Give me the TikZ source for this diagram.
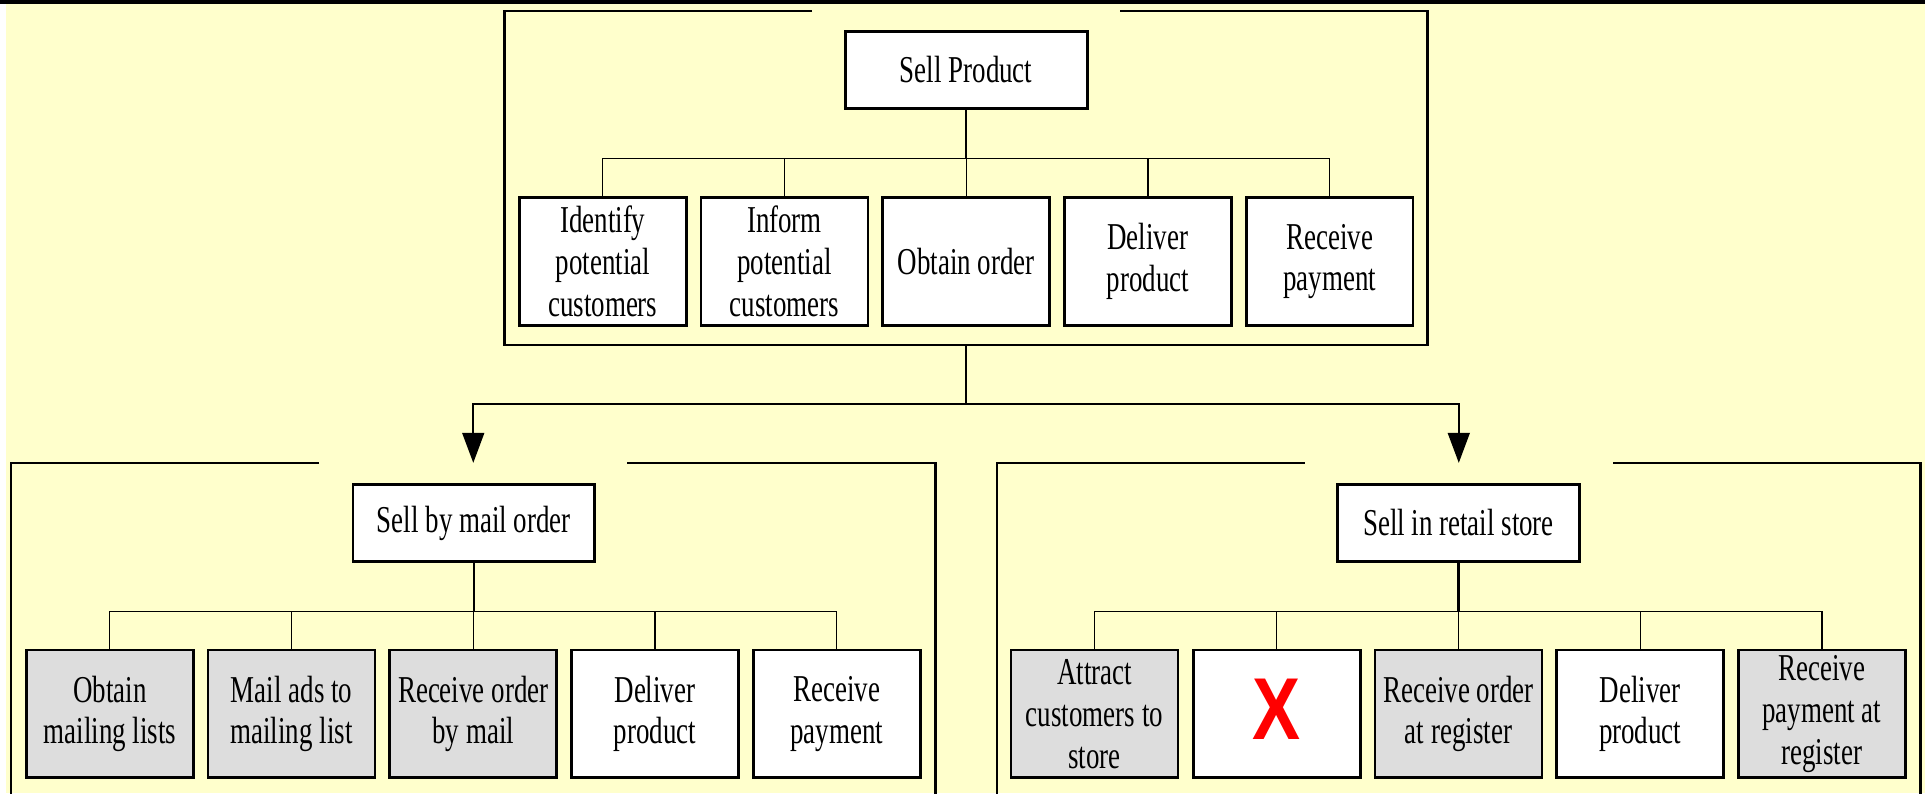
\documentclass[tikz,border=0pt]{standalone}
\usepackage{fontspec}
\setmainfont{Liberation Serif}[FakeStretch=0.71]
\newfontfamily\crossfont{Liberation Sans}[FakeStretch=0.82]
\usetikzlibrary{arrows.meta,calc}

% one drawing unit
\newlength\gridunit
\setlength\gridunit{0.12277mm}
\newcommand\taskfont{\fontsize{10.8}{11.9}\selectfont}

\definecolor{paper}{HTML}{FFFFCC}
\definecolor{shade}{HTML}{DDDDDD}
\definecolor{cross}{HTML}{FF0000}

\tikzset{
  task/.style={draw, line width=0.8pt, fill=white, inner sep=0pt,
    minimum width=136\gridunit, minimum height=104\gridunit,
    align=center, font=\taskfont},
  manual/.style={task, fill=shade},
  head/.style={draw, line width=0.8pt, fill=white, inner sep=0pt,
    minimum width=197\gridunit, minimum height=63\gridunit, font=\taskfont},
  group/.style={inner sep=0pt, outer sep=0pt},
  frameline/.style={line width=0.75pt},
  bus/.style={line width=0.35pt},
  stem/.style={line width=0.6pt},
  flow/.style={line width=0.45pt},
  flowtip/.style={flow, -{Triangle[width=2.2mm, length=3mm]}},
}

\begin{document}
\begin{tikzpicture}[x=\gridunit, y=-\gridunit]
\useasboundingbox (0,0) rectangle (1568,646);
\clip (0,0) rectangle (1568,646);

% page background
\fill[white] (0,0) rectangle (1568,646);
\fill[paper] (4.5,0) rectangle (1568,646);
\fill[black] (0,0) rectangle (1568,3.4);

% group frames
\node[group, minimum width=752\gridunit, minimum height=272\gridunit] (topgrp) at (787,145) {};
\node[group, minimum width=753\gridunit, minimum height=323\gridunit] (mailgrp) at (385.5,538.5) {};
\node[group, minimum width=752.5\gridunit, minimum height=323\gridunit] (shopgrp) at (1188.25,538.5) {};

\foreach \g in {topgrp, mailgrp, shopgrp}{
  \draw[frameline] ($(\g.north)+(-125.5,0)$) -- (\g.north west) -- (\g.south west)
    -- (\g.south east) -- (\g.north east) -- ($(\g.north)+(125.5,0)$);
}

% top process
\node[head] (sell) at (787,57) {Sell Product};
\node[task] (t1) at (491,213) {Identify\\potential\\customers};
\node[task] (t2) at (639,213) {Inform\\potential\\customers};
\node[task] (t3) at (787,213) {Obtain order};
\node[task] (t4) at (935,213) {Deliver\\product};
\node[task] (t5) at (1083,213) {Receive\\payment};
\coordinate (tjoin) at (787,129);
\draw[stem] (sell.south) -- (tjoin);
\foreach \c in {t1,t2,t3,t4,t5} \draw[bus] (tjoin) -| (\c.north);

% mail order process
\node[head] (mail) at (386,426) {Sell by mail order};
\node[manual] (m1) at (89.5,581.5) {Obtain\\mailing lists};
\node[manual] (m2) at (237.5,581.5) {Mail ads to\\mailing list};
\node[manual] (m3) at (385.5,581.5) {Receive order\\by mail};
\node[task] (m4) at (533.5,581.5) {Deliver\\product};
\node[task] (m5) at (681.5,581.5) {Receive\\payment};
\coordinate (mjoin) at (386,498);
\draw[stem] (mail.south) -- (mjoin);
\foreach \c in {m1,m2,m3,m4,m5} \draw[bus] (mjoin) -| (\c.north);

% retail store process
\node[head] (shop) at (1188,426) {Sell in retail store};
\node[manual] (s1) at (891.5,581.5) {Attract\\customers to\\store};
\node[task] (s2) at (1040,581.5) {};
\node[manual] (s3) at (1188,581.5) {Receive order\\at register};
\node[task] (s4) at (1336,581.5) {Deliver\\product};
\node[manual] (s5) at (1484,581.5) {Receive\\payment at\\register};
\node[text=cross, inner sep=0pt, font=\crossfont\bfseries\fontsize{25}{25}\selectfont] (nox) at ($(s2.center)+(0,-4)$) {X};
\coordinate (sjoin) at (1188,498);
\draw[stem] (shop.south) -- (sjoin);
\foreach \c in {s1,s2,s3,s4,s5} \draw[bus] (sjoin) -| (\c.north);

% specialisation arrows
\coordinate (split) at (787,329);
\draw[flow] (topgrp.south) -- (split);
\draw[flowtip] (split) -| (mailgrp.north);
\draw[flowtip] (split) -| (shopgrp.north);
\end{tikzpicture}
\end{document}
